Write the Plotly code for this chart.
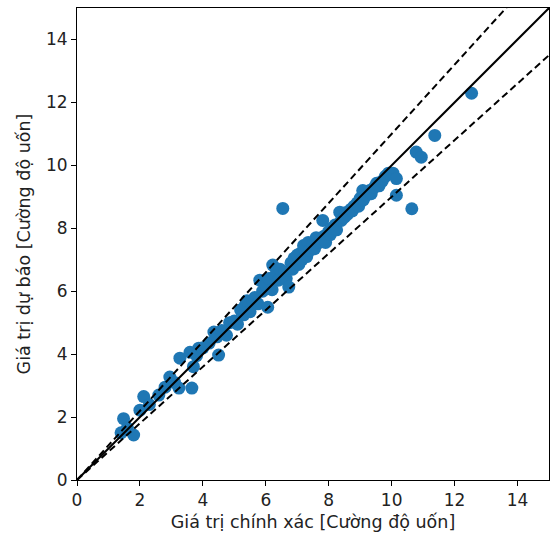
import plotly.graph_objects as go

# gia tri chinh xac / du bao (doc tu hinh)
y_true = [1.48, 1.8, 1.4, 1.6, 2.12, 2.0, 2.3, 2.6, 2.8, 2.95, 3.1, 3.24, 3.65, 3.27,
          3.59, 3.87, 3.7, 3.8, 4.0, 4.5, 4.35, 4.2, 4.45, 4.6, 4.75, 4.85, 5.0, 5.1,
          5.2, 5.3, 5.35, 5.4, 5.5, 5.6, 5.65, 5.75, 5.81, 5.9, 6.0, 6.06, 6.1, 6.2,
          6.22, 6.3, 6.4, 6.45, 6.54, 6.6, 6.65, 6.73, 6.8, 6.85, 6.9, 7.0, 7.05, 7.1,
          7.15, 7.2, 7.25, 7.3, 7.35, 7.4, 7.5, 7.55, 7.6, 7.7, 7.75, 7.81, 7.85, 7.9,
          8.0, 8.05, 8.1, 8.2, 8.25, 8.35, 8.4, 8.5, 8.55, 8.6, 8.7, 8.75, 8.8, 8.9,
          8.95, 9.0, 9.08, 9.1, 9.2, 9.3, 9.35, 9.45, 9.52, 9.6, 9.7, 9.8, 9.9, 10.04,
          10.15, 10.15, 10.64, 10.78, 10.94, 11.37, 12.54]
y_pred = [1.95, 1.43, 1.5, 1.65, 2.65, 2.22, 2.4, 2.7, 2.95, 3.27, 3.1, 2.92, 2.92, 3.87,
          4.06, 4.19, 3.6, 3.95, 4.2, 3.97, 4.7, 4.35, 4.55, 4.75, 4.6, 5.0, 5.05, 4.95,
          5.4, 5.25, 5.55, 5.7, 5.35, 5.65, 5.8, 5.6, 6.35, 6.0, 6.2, 5.49, 6.4, 6.05,
          6.83, 6.5, 6.35, 6.7, 8.63, 6.6, 6.4, 6.13, 6.9, 6.7, 7.05, 7.15, 6.85, 7.2,
          7.0, 7.45, 7.3, 7.1, 7.55, 7.3, 7.5, 7.35, 7.7, 7.55, 7.6, 8.25, 7.75, 7.55,
          7.9, 7.8, 8.0, 8.1, 7.95, 8.51, 8.25, 8.35, 8.5, 8.45, 8.6, 8.55, 8.7, 8.8,
          8.7, 8.95, 9.2, 8.9, 9.05, 9.2, 9.1, 9.3, 9.43, 9.35, 9.5, 9.65, 9.75, 9.75,
          9.58, 9.05, 8.62, 10.42, 10.26, 10.95, 12.29]

line_x = [0, 15]
line_y = [0, 15]
upper_y = [0, 16.5]
lower_y = [0, 13.5]

fig = go.Figure()
fig.add_trace(go.Scatter(x=y_true, y=y_pred, mode='markers',
                         marker=dict(color='#1f77b4', size=13, line=dict(width=0))))
fig.add_trace(go.Scatter(x=line_x, y=line_y, mode='lines', line=dict(color='black', width=2)))
fig.add_trace(go.Scatter(x=line_x, y=upper_y, mode='lines', line=dict(color='black', width=2, dash='7px,4px')))
fig.add_trace(go.Scatter(x=line_x, y=lower_y, mode='lines', line=dict(color='black', width=2, dash='7px,4px')))

axis_style = dict(range=[0, 15], tickvals=[0, 2, 4, 6, 8, 10, 12, 14], showgrid=False, zeroline=False,
                  showline=True, linecolor='black', linewidth=1, mirror=True,
                  ticks='outside', ticklen=5, tickcolor='black', automargin=False,
                  tickfont=dict(size=17, color='#222'), title_font=dict(size=17.5, color='#222'))

fig.update_layout(width=550, height=541, showlegend=False,
                  plot_bgcolor='white', paper_bgcolor='white',
                  font=dict(family='DejaVu Sans'),
                  margin=dict(l=77, r=1, t=8, b=61, autoexpand=False),
                  xaxis=dict(axis_style, title=dict(text='Giá trị chính xác [Cường độ uốn]', standoff=6)),
                  yaxis=dict(axis_style, title=dict(text='Giá trị dự báo [Cường độ uốn]', standoff=10)))

# bo margin mac dinh cua body de hinh nam dung cho
fig.write_html("out.html", config={'displayModeBar': False},
               post_script="document.body.style.margin='0px';document.body.style.overflow='hidden';")
